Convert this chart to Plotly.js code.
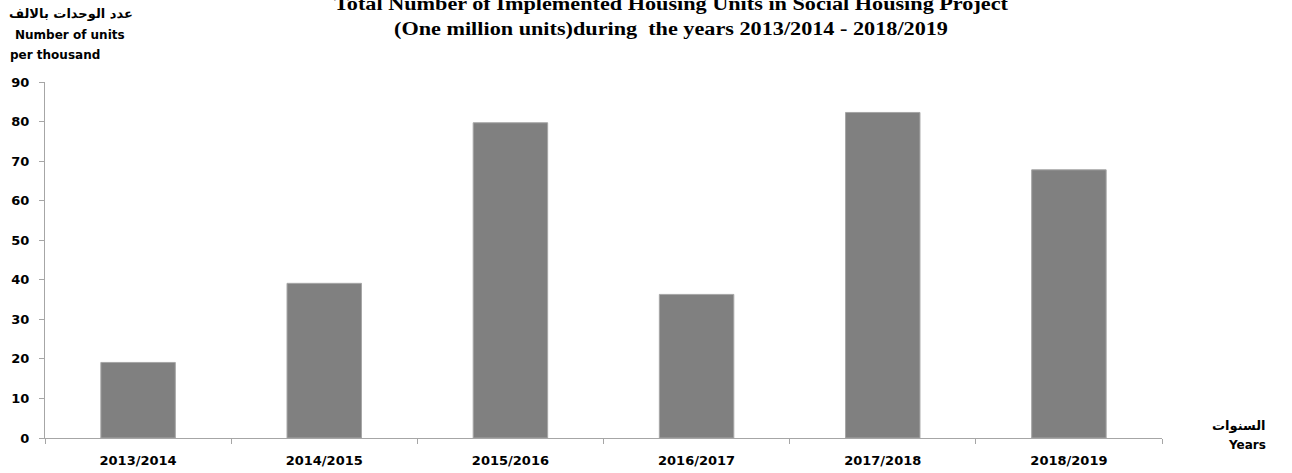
<!DOCTYPE html>
<html>
<head>
<meta charset="utf-8">
<script src="https://cdn.plot.ly/plotly-3.0.1.min.js"></script>
<style>
html,body{margin:0;padding:0;background:#fff;}
#chart{width:1292px;height:473px;}
</style>
</head>
<body>
<div id="chart"></div>
<script>
var years = ["2013/2014", "2014/2015", "2015/2016", "2016/2017", "2017/2018", "2018/2019"];
var units = [19.1, 39.1, 79.7, 36.3, 82.3, 67.8];
var yTicks = [0, 10, 20, 30, 40, 50, 60, 70, 80, 90];

var W = 1292, H = 473;
var M = {l: 45, r: 130, t: 82, b: 35};
var PW = W - M.l - M.r, PH = H - M.t - M.b;
function px(x) { return (x - M.l) / PW; }
function py(y) { return (H - M.b - y) / PH; }

var sans = "DejaVu Sans, sans-serif";
var axisCol = "#a6a6a6";
var titleCX = 671;

var trace = {
  type: "bar",
  x: years,
  y: units,
  marker: {color: "#808080", line: {color: "#a6a6a6", width: 1}},
  hoverinfo: "x+y"
};

function lab(text, x, y, xanchor, size) {
  return {
    text: text, xref: "paper", yref: "paper", x: px(x), y: py(y),
    xanchor: xanchor || "center", yanchor: "middle", showarrow: false,
    font: {family: sans, size: size || 12, color: "#000", weight: "bold"}
  };
}

var layout = {
  width: W, height: H,
  margin: M,
  paper_bgcolor: "#fff", plot_bgcolor: "#fff",
  showlegend: false,
  bargap: 0.6,
  title: {
    text: "<b>Total Number of Implemented Housing Units in Social Housing Project<br>(One million units)during  the years 2013/2014 - 2018/2019</b>",
    font: {family: "Liberation Serif, Times New Roman, serif", size: 19, color: "#000"},
    xref: "container", yref: "container",
    x: titleCX / W, xanchor: "center",
    y: 1 - 10 / H, yanchor: "middle"
  },
  xaxis: {
    type: "category",
    showline: true, linecolor: axisCol, linewidth: 1,
    ticks: "outside", tickson: "boundaries", ticklen: 5, tickcolor: axisCol,
    ticklabelstandoff: 10,
    showgrid: false, zeroline: false,
    tickfont: {family: sans, size: 13, color: "#000", weight: "bold"}
  },
  yaxis: {
    range: [0, 90],
    tickvals: yTicks,
    showline: true, linecolor: axisCol, linewidth: 1,
    ticks: "outside", ticklen: 5, tickcolor: axisCol,
    ticklabelstandoff: 7,
    showgrid: false, zeroline: false,
    tickfont: {family: sans, size: 13, color: "#000", weight: "bold"}
  },
  annotations: [
    lab("عدد الوحدات بالالف", 71, 14, "center", 13),
    lab("Number of units", 70, 35),
    lab("per thousand", 55, 55),
    lab("السنوات", 1268, 425, "right", 13),
    lab("Years", 1268, 445, "right")
  ]
};

Plotly.newPlot("chart", [trace], layout, {displayModeBar: false, staticPlot: true}).then(function (gd) {
  // widen the title horizontally, as in the reference
  var g = gd.querySelector(".g-gtitle");
  if (g) {
    g.setAttribute("transform", "translate(" + titleCX + ",0) scale(1.17,1) translate(" + (-titleCX) + ",0)");
  }
});
</script>
</body>
</html>
